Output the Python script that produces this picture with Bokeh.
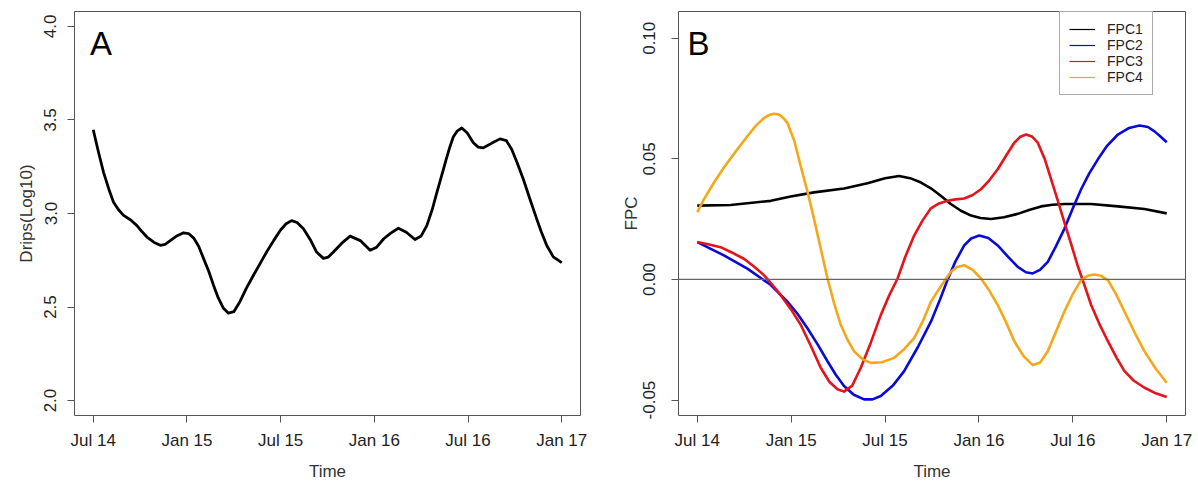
from bokeh.plotting import figure
from bokeh.layouts import row
from bokeh.models import (FixedTicker, PrintfTickFormatter, Range1d, Span,
                          Label, Legend, LegendItem)
from bokeh.embed import file_html
from bokeh.resources import INLINE

# Time axis: months since July 2014
tick_months = [0, 6, 12, 18, 24, 30]
tick_labels = ["Jul 14", "Jan 15", "Jul 15", "Jan 16", "Jul 16", "Jan 17"]

# Panel A: smoothed drips (log10)
drips_t = [0.0, 0.33, 0.66, 1.0, 1.3, 1.62, 1.94, 2.4, 2.8, 3.1, 3.44, 3.9, 4.29, 4.6,
           4.93, 5.35, 5.78, 6.1, 6.42, 6.75, 7.06, 7.4, 7.7, 8.0, 8.34, 8.66, 9.0,
           9.4, 9.8, 10.26, 10.7, 11.1, 11.55, 11.97, 12.35, 12.7, 13.05, 13.46, 13.9,
           14.3, 14.74, 15.05, 15.38, 15.9, 16.45, 17.1, 17.73, 18.15, 18.6, 19.05,
           19.54, 20.05, 20.6, 21.0, 21.36, 21.7, 22.0, 22.3, 22.6, 22.85, 23.06, 23.3,
           23.6, 23.95, 24.34, 24.65, 24.98, 25.5, 26.05, 26.45, 26.8, 27.15, 27.54,
           27.95, 28.4, 28.7, 29.04, 29.46, 30.0]
drips = [3.448, 3.33, 3.22, 3.13, 3.06, 3.02, 2.99, 2.965, 2.935, 2.905, 2.874, 2.845,
         2.83, 2.835, 2.855, 2.88, 2.897, 2.893, 2.87, 2.825, 2.76, 2.69, 2.617, 2.55,
         2.493, 2.467, 2.475, 2.53, 2.6, 2.67, 2.735, 2.794, 2.855, 2.909, 2.945, 2.962,
         2.952, 2.918, 2.86, 2.794, 2.76, 2.767, 2.794, 2.84, 2.879, 2.855, 2.803, 2.82,
         2.865, 2.895, 2.921, 2.9, 2.861, 2.88, 2.935, 3.02, 3.112, 3.2, 3.29, 3.36,
         3.41, 3.44, 3.457, 3.43, 3.378, 3.355, 3.351, 3.375, 3.399, 3.39, 3.342, 3.27,
         3.183, 3.08, 2.97, 2.9, 2.829, 2.768, 2.737]

# Panel B: functional principal components
fpc1_t = [0.0, 2.13, 4.7, 5.97, 7.46, 9.38, 10.88, 12.0, 12.9, 13.6, 14.3, 14.93,
          15.6, 16.2, 16.85, 17.5, 18.1, 18.77, 19.6, 20.48, 21.2, 21.97, 22.7, 23.46,
          25.17, 26.88, 28.58, 30.0]
fpc1 = [0.0306, 0.0309, 0.0326, 0.0344, 0.0361, 0.0377, 0.0399, 0.042, 0.0429, 0.042,
        0.0402, 0.0378, 0.0345, 0.0313, 0.0285, 0.0265, 0.0255, 0.0251, 0.0258, 0.0272,
        0.0288, 0.0303, 0.031, 0.0313, 0.0313, 0.0303, 0.0292, 0.0274]

fpc2_t = [0.0, 1.7, 3.2, 4.7, 5.76, 6.4, 7.04, 7.7, 8.32, 8.85, 9.38, 10.0, 10.66,
          11.2, 11.73, 12.5, 13.22, 14.1, 14.93, 15.5, 16.0, 16.5, 17.06, 17.5, 18.02,
          18.6, 19.2, 19.85, 20.48, 21.0, 21.44, 21.9, 22.4, 22.9, 23.46, 24.0, 24.53,
          25.05, 25.6, 26.2, 26.88, 27.6, 28.26, 28.8, 29.22, 29.6, 30.0]
fpc2 = [0.0155, 0.0100, 0.0045, -0.0023, -0.0092, -0.0142, -0.0202, -0.0270, -0.0339,
        -0.0395, -0.0442, -0.0478, -0.0497, -0.0497, -0.0483, -0.0440, -0.0380, -0.0280,
        -0.0175, -0.0085, 0.0000, 0.0075, 0.0141, 0.0170, 0.0182, 0.0172, 0.0141, 0.0095,
        0.0052, 0.0030, 0.0025, 0.0040, 0.0073, 0.0135, 0.0210, 0.0295, 0.0374, 0.0440,
        0.0498, 0.0555, 0.0601, 0.0628, 0.0638, 0.0632, 0.0614, 0.0593, 0.0569]

fpc3_t = [0.0, 0.75, 1.49, 2.2, 2.98, 3.6, 4.26, 4.8, 5.33, 6.0, 6.61, 7.25, 7.89,
          8.45, 8.96, 9.38, 9.9, 10.45, 11.1, 11.73, 12.25, 12.8, 13.3, 13.86, 14.4,
          14.93, 15.45, 16.0, 16.5, 17.06, 17.6, 18.13, 18.65, 19.2, 19.75, 20.26, 20.65,
          21.01, 21.38, 21.76, 22.2, 22.61, 23.05, 23.46, 23.9, 24.3, 24.75, 25.17, 25.7,
          26.24, 26.8, 27.3, 27.9, 28.58, 29.3, 30.0]
fpc3 = [0.0155, 0.0145, 0.0134, 0.0112, 0.0086, 0.0055, 0.0018, -0.0022, -0.0065,
        -0.0125, -0.0188, -0.0275, -0.0366, -0.0425, -0.0455, -0.0465, -0.0440, -0.0366,
        -0.0260, -0.0147, -0.0068, 0.0004, 0.0095, 0.0182, 0.0245, 0.0295, 0.0315, 0.0326,
        0.0332, 0.0336, 0.0350, 0.0374, 0.0410, 0.0457, 0.0515, 0.0567, 0.0592, 0.0601,
        0.0593, 0.0567, 0.0500, 0.0416, 0.0325, 0.0237, 0.0145, 0.0059, -0.0025, -0.0106,
        -0.0185, -0.0256, -0.0325, -0.0380, -0.0420, -0.0449, -0.0472, -0.0487]

fpc4_t = [0.0, 0.43, 1.05, 1.7, 2.45, 3.2, 3.75, 4.26, 4.6, 4.9, 5.15, 5.35, 5.55,
          5.76, 6.2, 6.61, 7.05, 7.46, 7.9, 8.32, 8.75, 9.17, 9.6, 10.02, 10.55, 11.09,
          11.8, 12.58, 13.2, 13.86, 14.4, 14.93, 15.6, 16.21, 16.6, 17.06, 17.6, 18.13,
          18.65, 19.2, 19.75, 20.26, 20.85, 21.44, 21.9, 22.4, 22.9, 23.46, 24.0, 24.53,
          24.95, 25.38, 25.8, 26.24, 26.75, 27.3, 27.95, 28.58, 29.3, 30.0]
fpc4 = [0.0279, 0.0333, 0.0400, 0.0464, 0.0530, 0.0594, 0.0638, 0.0669, 0.0682, 0.0687,
        0.0685, 0.0678, 0.0666, 0.0649, 0.0575, 0.0470, 0.0362, 0.0251, 0.0125, 0.0004,
        -0.0100, -0.0188, -0.0250, -0.0298, -0.0330, -0.0346, -0.0343, -0.0325, -0.0290,
        -0.0243, -0.0175, -0.0092, -0.0025, 0.0032, 0.0052, 0.0059, 0.0040, 0.0004,
        -0.0045, -0.0106, -0.0180, -0.0256, -0.0318, -0.0355, -0.0345, -0.0298, -0.0220,
        -0.0133, -0.0060, -0.0003, 0.0015, 0.0021, 0.0015, -0.0003, -0.0060, -0.0133,
        -0.0220, -0.0298, -0.0370, -0.0428]

fpc_names = ["FPC1", "FPC2", "FPC3", "FPC4"]
fpc_colors = ["#000000", "#0a0ad8", "#e3141c", "#f4a71b"]

FONT = "Liberation Sans"
FRAME = "#555555"


def style(p, yfmt, ylab_standoff, ytitle_standoff):
    p.xgrid.visible = False
    p.ygrid.visible = False
    p.outline_line_color = FRAME
    p.outline_line_width = 1
    for ax in (p.xaxis, p.yaxis):
        ax.axis_line_color = None
        ax.major_tick_line_color = FRAME
        ax.major_tick_in = 0
        ax.major_tick_out = 7
        ax.minor_tick_line_color = None
        ax.major_label_text_font = FONT
        ax.major_label_text_font_size = "17px"
        ax.major_label_text_color = "#222222"
        ax.axis_label_text_font = FONT
        ax.axis_label_text_font_size = "17px"
        ax.axis_label_text_font_style = "normal"
        ax.axis_label_text_color = "#333333"
    p.xaxis.ticker = FixedTicker(ticks=tick_months)
    p.xaxis.major_label_overrides = dict(zip(tick_months, tick_labels))
    p.xaxis.major_label_standoff = 8
    p.xaxis.axis_label_standoff = 9
    p.yaxis.formatter = PrintfTickFormatter(format=yfmt)
    p.yaxis.major_label_orientation = "vertical"
    p.yaxis.major_label_standoff = ylab_standoff
    p.yaxis.axis_label_standoff = ytitle_standoff


# ---- Panel A ----
pa = figure(width=599, height=483, output_backend="svg", toolbar_location=None,
            x_range=Range1d(-1.2, 31.2), y_range=Range1d(1.92, 4.08),
            x_axis_label="Time", y_axis_label="Drips(Log10)",
            min_border_left=74, min_border_right=19, min_border_top=11,
            min_border_bottom=66)
style(pa, "%.1f", 11, 6)
pa.yaxis.ticker = FixedTicker(ticks=[2.0, 2.5, 3.0, 3.5, 4.0])
pa.line(drips_t, drips, line_color="#000000", line_width=2.8, line_join="round")
pa.add_layout(Label(x=-0.21, y=3.911, text="A", text_font=FONT, text_font_size="33px",
                    text_baseline="alphabetic", text_align="left", text_color="#000000"))

# ---- Panel B ----
pb = figure(width=599, height=483, output_backend="svg", toolbar_location=None,
            x_range=Range1d(-1.2, 31.2), y_range=Range1d(-0.0564, 0.1111),
            x_axis_label="Time", y_axis_label="FPC",
            min_border_left=79, min_border_right=13, min_border_top=11,
            min_border_bottom=66)
style(pb, "%.2f", 16, 0)
pb.yaxis.ticker = FixedTicker(ticks=[-0.05, 0.0, 0.05, 0.10])
pb.add_layout(Span(location=0, dimension="width", line_color="#666666", line_width=1.2))

series = [(fpc1_t, fpc1), (fpc2_t, fpc2), (fpc3_t, fpc3), (fpc4_t, fpc4)]
items = []
for (t, v), name, col in zip(series, fpc_names, fpc_colors):
    pb.line(t, v, line_color=col, line_width=2.6, line_join="round")
    # thin key line for the legend (a single point draws nothing in the plot area)
    key = pb.line(x=t[:1], y=v[:1], line_color=col, line_width=1.2)
    items.append(LegendItem(label=name, renderers=[key]))

legend = Legend(items=items, location=(381, 320), margin=0, padding=9, spacing=0,
                glyph_width=26, glyph_height=16, label_height=16, label_standoff=12,
                label_text_font=FONT, label_text_font_size="14px",
                label_text_color="#222222", border_line_color=FRAME,
                border_line_width=1, background_fill_color="white",
                background_fill_alpha=1.0)
pb.add_layout(legend)
pb.add_layout(Label(x=-0.62, y=0.0979, text="B", text_font=FONT, text_font_size="33px",
                    text_baseline="alphabetic", text_align="left", text_color="#000000"))

layout = row(pa, pb)
open("out.html", "w").write(file_html(layout, INLINE))
